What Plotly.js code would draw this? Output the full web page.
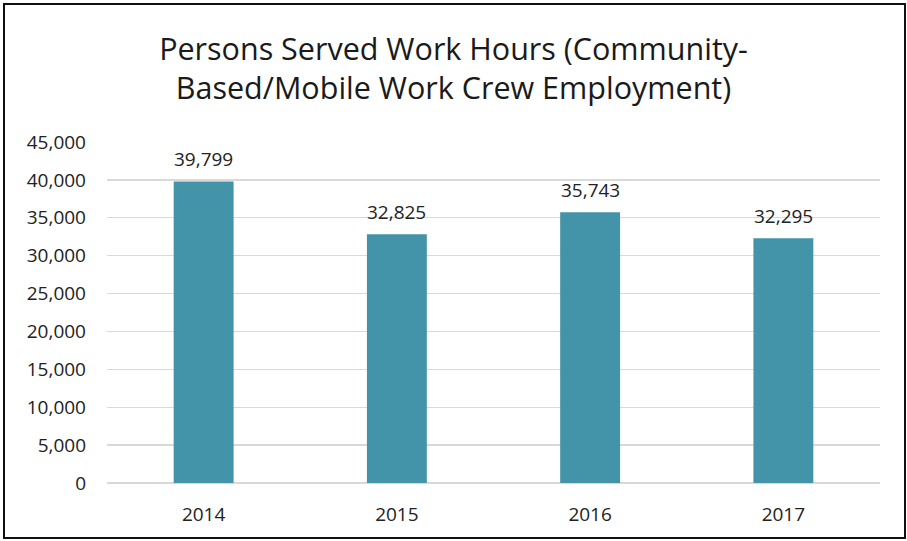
<!DOCTYPE html>
<html>
<head>
<meta charset="utf-8">
<script src="https://cdn.plot.ly/plotly-3.0.1.min.js"></script>
<style>
html,body{margin:0;padding:0;background:#fff;}
#wrap{position:relative;width:907px;height:541px;}
#chart{width:907px;height:541px;}
#frame{position:absolute;left:3px;top:3px;width:899px;height:532px;border:2px solid #111;pointer-events:none;}
</style>
</head>
<body>
<div id="wrap"><div id="chart"></div><div id="frame"></div></div>
<script>
const years = ['2014', '2015', '2016', '2017'];
const hours = [39799, 32825, 35743, 32295];
const yTicks = [0, 5000, 10000, 15000, 20000, 25000, 30000, 35000, 40000, 45000];
const titleText = 'Persons Served Work Hours (Community-<br>Based/Mobile Work Crew Employment)';

const fontFam = '"Open Sans", Lato, sans-serif';
const trace = {
  type: 'bar',
  x: years,
  y: hours,
  marker: {color: '#4394A8'},
  hoverinfo: 'x+y'
};
const annotations = years.map((yr, i) => ({
  x: i, y: hours[i], xref: 'x', yref: 'y',
  text: hours[i].toLocaleString('en-US'),
  showarrow: false, yanchor: 'bottom', yshift: 7,
  font: {family: fontFam, size: 19, color: '#222'}
}));
const layout = {
  width: 907, height: 541,
  margin: {l: 107, r: 27, t: 142, b: 58},
  paper_bgcolor: '#fff', plot_bgcolor: '#fff',
  bargap: 0.69,
  showlegend: false,
  title: {
    text: titleText,
    font: {family: fontFam, size: 30.5, color: '#1a1a1a'},
    x: 0.5, xanchor: 'center', y: 0.89, yanchor: 'top', yref: 'container'
  },
  xaxis: {
    type: 'category',
    range: [-0.5, 3.5],
    showgrid: false, showline: false, zeroline: false,
    ticks: '', ticklabelstandoff: 18,
    tickfont: {family: fontFam, size: 19, color: '#222'}
  },
  yaxis: {
    range: [0, 45000],
    tickvals: yTicks,
    tickformat: ',d',
    showgrid: true, gridcolor: '#d9d9d9', gridwidth: 1.3,
    zeroline: true, zerolinecolor: '#d9d9d9', zerolinewidth: 1.3,
    showline: false, ticks: '', ticklabelstandoff: 20,
    tickfont: {family: fontFam, size: 19, color: '#222'}
  },
  annotations: annotations
};
Plotly.newPlot('chart', [trace], layout, {displayModeBar: false, staticPlot: true});
</script>
</body>
</html>
